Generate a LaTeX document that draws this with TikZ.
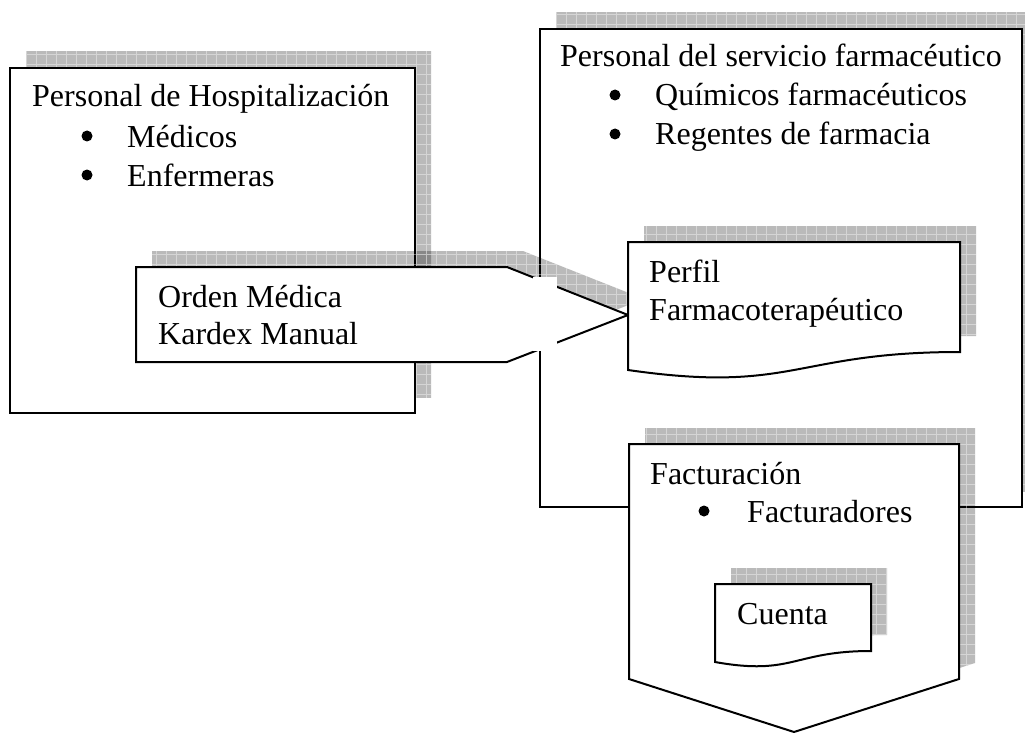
\documentclass[tikz,border=0pt]{standalone}
\usepackage{fontspec}
\setmainfont{Liberation Serif}

\newcommand\dropshadow[1]{%
	\begin{scope}[shift={(16,-16)}]
		\clip #1;
		\fill[black,opacity=.27] (-50,-50) rectangle (1100,800);
		\draw[white,opacity=.4,line width=.8pt,step=10pt] (-50,-50) grid (1100,800);
	\end{scope}}

\begin{document}
\begin{tikzpicture}[x=1pt,y=-1pt,
	panel/.style={draw,fill=white,line width=2pt},
	txt/.style={anchor=base west,inner sep=0pt,font=\fontsize{32pt}{38pt}\selectfont},
	bul/.style={circle,fill=black,inner sep=0pt,minimum size=11pt,yshift=11pt}]
	\useasboundingbox (0,0) rectangle (1025,733);
	% servicio farmaceutico
	\dropshadow{(540,29) rectangle (1022,507)}
	\draw[panel] (540,29) rectangle (1022,507);
	\node[txt] (serv) at (560,67) {Personal del servicio farmacéutico};
	\node[bul] (bq) at (615,106) {};
	\node[txt] (quim) at (655,106) {Químicos farmacéuticos};
	\node[bul] (br) at (615,145) {};
	\node[txt] (reg) at (655,145) {Regentes de farmacia};
	% hospitalizacion
	\dropshadow{(10,68) rectangle (415,413)}
	\draw[panel] (10,68) rectangle (415,413);
	\node[txt] (hosp) at (32,107) {Personal de Hospitalización};
	\node[bul] (bm) at (87,147) {};
	\node[txt] (med) at (127,147) {Médicos};
	\node[bul] (be) at (87,186) {};
	\node[txt] (enf) at (127,186) {Enfermeras};
	% orden medica
	\dropshadow{(136,267) -- (507,267) -- (628,315) -- (507,362) -- (136,362) -- cycle}
	\draw[panel] (136,267) -- (507,267) -- (628,315) -- (507,362) -- (136,362) -- cycle;
	\fill[white] (533,277) rectangle (557,351);
	\node[txt] (orden) at (158,307) {Orden Médica};
	\node[txt] (kardex) at (158,344) {Kardex Manual};
	% perfil
	\dropshadow{(628,242) -- (960,242) -- (960,352) .. controls (794,352) and (794,394) .. (628,370) -- cycle}
	\draw[panel] (628,242) -- (960,242) -- (960,352) .. controls (794,352) and (794,394) .. (628,370) -- cycle;
	\node[txt] (perfil) at (649,282) {Perfil};
	\node[txt] (farmaco) at (649,320) {Farmacoterapéutico};
	% facturacion
	\dropshadow{(629,444) -- (959,444) -- (959,679) -- (794,732) -- (629,679) -- cycle}
	\draw[panel] (629,444) -- (959,444) -- (959,679) -- (794,732) -- (629,679) -- cycle;
	\node[txt] (fact) at (650,484) {Facturación};
	\node[bul] (bf) at (704,522) {};
	\node[txt] (factur) at (747,522) {Facturadores};
	% cuenta
	\dropshadow{(715,584) -- (871,584) -- (871,651) .. controls (793,651) and (793,676) .. (715,662) -- cycle}
	\draw[panel] (715,584) -- (871,584) -- (871,651) .. controls (793,651) and (793,676) .. (715,662) -- cycle;
	\node[txt] (cuenta) at (737,624) {Cuenta};
\end{tikzpicture}
\end{document}
